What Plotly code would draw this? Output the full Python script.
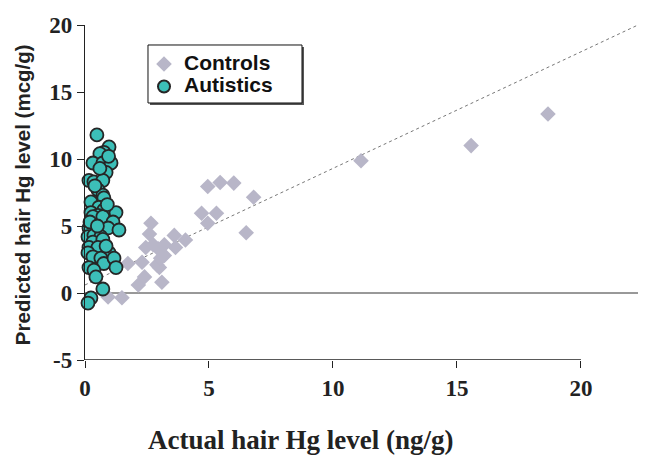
import plotly.graph_objects as go

# ---- data ----
controls_x = [0.93, 1.49, 1.73, 2.15, 2.40, 2.30, 2.45, 2.60, 2.66, 2.75, 2.90, 2.95, 3.00,
              3.05, 3.20, 3.20, 3.10, 3.60, 3.65, 4.05, 4.70, 4.95, 4.95, 5.30, 5.45, 6.00,
              6.50, 6.80, 11.13, 15.57, 18.67]
controls_y = [-0.30, -0.35, 2.20, 0.60, 1.20, 2.30, 3.40, 4.40, 5.20, 3.60, 2.10, 3.30, 1.90,
              2.60, 2.80, 3.60, 0.80, 4.30, 3.40, 3.95, 5.95, 5.20, 7.95, 5.95, 8.25, 8.20,
              4.50, 7.15, 9.87, 11.00, 13.36]

autistic_x = [0.48, 0.97, 0.76, 0.60, 0.32, 0.72, 1.05, 0.85, 0.16, 0.36, 0.72, 0.52, 0.72,
              0.76, 0.24, 0.56, 0.76, 0.24, 0.52, 1.25, 0.32, 0.72, 1.13, 0.16, 0.56, 0.93,
              1.37, 0.12, 0.36, 0.64, 0.32, 0.72, 0.16, 0.52, 0.12, 0.32, 0.97, 0.64, 0.76,
              1.17, 1.25, 0.16, 0.36, 0.44, 0.72, 0.24, 0.12, 0.40, 0.20, 0.50, 0.85, 0.90,
              0.60, 0.95]
autistic_y = [11.80, 10.90, 10.50, 10.40, 9.70, 9.70, 9.70, 9.00, 8.40, 8.30, 8.40, 7.70, 7.30,
              7.10, 6.80, 6.40, 6.20, 6.00, 5.80, 6.00, 5.70, 5.70, 5.30, 4.85, 4.70, 4.85,
              4.70, 4.20, 4.30, 4.20, 3.80, 4.00, 3.40, 3.40, 3.00, 2.70, 3.00, 2.60, 2.20,
              2.60, 1.90, 1.90, 1.70, 1.20, 0.30, -0.37, -0.75, 8.00, 5.30, 5.00, 3.50, 6.60,
              9.30, 10.20]

fit_intercept = 0.6
fit_slope = 0.87
fit_x = [0, 22.3]
fit_y = [fit_intercept + fit_slope * v for v in fit_x]

x_ticks = [0, 5, 10, 15, 20]
y_ticks = [-5, 0, 5, 10, 15, 20]

fig = go.Figure()

fig.add_trace(go.Scatter(
    x=fit_x, y=fit_y, mode="lines", showlegend=False, hoverinfo="skip",
    line=dict(color="#777", width=1, dash="dot")))

fig.add_trace(go.Scatter(
    x=controls_x, y=controls_y, mode="markers",
    name='<span style="font-size:21px">Controls</span>', cliponaxis=False,
    marker=dict(symbol="diamond", size=12, color="#b8b6c8", line=dict(width=0))))

fig.add_trace(go.Scatter(
    x=autistic_x, y=autistic_y, mode="markers",
    name='<span style="font-size:21px">Autistics</span>', cliponaxis=False,
    marker=dict(symbol="circle", size=13, color="#3cbfb8",
                line=dict(color="#262626", width=1.8))))

# horizontal zero line and x axis line (axis line only spans 0..20)
fig.add_shape(type="line", xref="x", yref="y", x0=0, x1=22.3, y0=0, y1=0,
              line=dict(color="#333", width=1), layer="below")
fig.add_shape(type="line", xref="x", yref="y", x0=0, x1=20, y0=-5, y1=-5,
              line=dict(color="#222", width=1.3))

# legend frame with a small drop shadow
fig.add_shape(type="rect", xref="paper", yref="paper",
              x0=0.1175, x1=0.396, y0=0.761, y1=0.934,
              fillcolor="#555", line=dict(width=0), layer="above")
fig.add_shape(type="rect", xref="paper", yref="paper",
              x0=0.1139, x1=0.3924, y0=0.7672, y1=0.9403,
              fillcolor="white", line=dict(color="#111", width=1), layer="above")

# axis titles
fig.add_annotation(text="<b>Actual hair Hg level (ng/g)</b>", xref="paper", yref="paper",
                   x=0.389, y=-0.239, xanchor="center", yanchor="middle", showarrow=False,
                   font=dict(family="Liberation Serif", size=27, color="#222"))
fig.add_annotation(text="<b>Predicted hair Hg level (mcg/g)</b>", xref="paper", yref="paper",
                   x=-0.114, y=0.495, xanchor="center", yanchor="middle", showarrow=False,
                   textangle=-90,
                   font=dict(family="Liberation Sans", size=20.5, color="#222"))

fig.update_layout(
    width=651, height=450,
    margin=dict(l=77, r=21, t=17, b=98),
    paper_bgcolor="white", plot_bgcolor="white",
    font=dict(family="Liberation Sans", color="#111"),
    showlegend=True,
    legend=dict(
        x=0.1067, y=0.932, xanchor="left", yanchor="top",
        bgcolor="rgba(0,0,0,0)", borderwidth=0,
        font=dict(family="Liberation Sans", size=15, color="#111", weight="bold"),
        itemsizing="constant", tracegroupgap=0),
    xaxis=dict(
        range=[0, 22.3], showgrid=False, zeroline=False, showline=False, automargin=False,
        tickmode="array", tickvals=x_ticks, ticktext=[str(v) for v in x_ticks],
        ticks="outside", ticklen=7, tickwidth=1, tickcolor="#222",
        tickfont=dict(family="Liberation Serif", size=23, color="#222", weight="bold")),
    yaxis=dict(
        range=[-5, 20], showgrid=False, zeroline=False, showline=True, automargin=False,
        linecolor="#222", linewidth=1.3,
        tickmode="array", tickvals=y_ticks, ticktext=[str(v) for v in y_ticks],
        ticks="outside", ticklen=7, tickwidth=1, tickcolor="#222",
        tickfont=dict(family="Liberation Serif", size=23, color="#222", weight="bold")),
)

fig.write_html("out.html")
